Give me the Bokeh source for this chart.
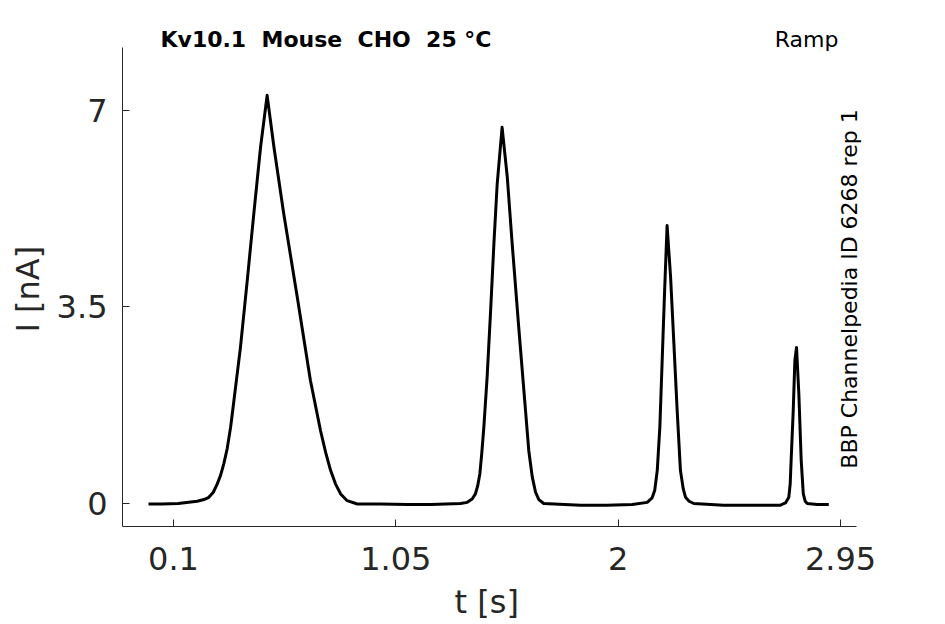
from bokeh.plotting import figure
from bokeh.models import Range1d, FixedTicker, Label, Title
from bokeh.embed import file_html
from bokeh.resources import INLINE
import math

# ---- data (time in s, current in nA) ----
t_peak1 = [-0.007, 0.05, 0.12, 0.201, 0.230, 0.251, 0.270, 0.287, 0.301, 0.315,
           0.329, 0.344, 0.358, 0.386, 0.415, 0.443, 0.472, 0.500, 0.529, 0.571,
           0.629, 0.685, 0.728, 0.750, 0.771, 0.792, 0.814, 0.842, 0.885, 0.984]
i_peak1 = [-0.01, -0.01, 0.00, 0.04, 0.07, 0.11, 0.20, 0.35, 0.50, 0.71,
           0.97, 1.36, 1.83, 2.78, 3.97, 5.16, 6.35, 7.27, 6.35, 5.16,
           3.67, 2.19, 1.30, 0.91, 0.59, 0.35, 0.17, 0.05, -0.01, -0.01]
t_peak2 = [1.10, 1.20, 1.326, 1.355, 1.376, 1.390, 1.400, 1.409, 1.417, 1.426,
           1.440, 1.455, 1.469, 1.483, 1.504, 1.526, 1.547, 1.575, 1.604, 1.618,
           1.633, 1.647, 1.661, 1.682, 1.839]
i_peak2 = [-0.02, -0.02, 0.00, 0.02, 0.08, 0.17, 0.32, 0.53, 0.89, 1.36,
           2.25, 3.44, 4.63, 5.69, 6.70, 5.82, 4.63, 3.14, 1.66, 0.94,
           0.47, 0.20, 0.07, 0.00, -0.03]
t_peak3 = [1.95, 2.060, 2.124, 2.145, 2.156, 2.167, 2.178, 2.188, 2.198, 2.209,
           2.224, 2.238, 2.252, 2.266, 2.278, 2.288, 2.303, 2.323, 2.45, 2.60]
i_peak3 = [-0.03, -0.02, 0.02, 0.10, 0.23, 0.59, 1.36, 2.55, 3.74, 4.95,
           4.03, 2.85, 1.66, 0.59, 0.26, 0.11, 0.04, 0.00, -0.03, -0.03]
t_peak4 = [2.694, 2.708, 2.715, 2.729, 2.735, 2.739, 2.748, 2.755, 2.762, 2.772,
           2.782, 2.791, 2.799, 2.808, 2.85, 2.900]
i_peak4 = [-0.03, 0.00, 0.01, 0.11, 0.35, 0.77, 1.66, 2.55, 2.78, 1.95,
           0.77, 0.17, 0.04, 0.00, -0.02, -0.02]

x_ticks = [0.1, 1.05, 2, 2.95]
x_tick_labels = ["0.1", "1.05", "2", "2.95"]
y_ticks = [0, 3.5, 7]
y_tick_labels = ["0", "3.5", "7"]

x_label = "t [s]"
y_label = "I [nA]"
title_text = "Kv10.1 \u00a0Mouse \u00a0CHO \u00a025 °C"
protocol_text = "Ramp"
source_text = "BBP Channelpedia ID 6268 rep 1"

t_all = t_peak1 + t_peak2 + t_peak3 + t_peak4
i_all = i_peak1 + i_peak2 + i_peak3 + i_peak4
assert len(t_all) == len(i_all)

FONT = "DejaVu Sans"
AX = "#262626"

# axes limits (the drawing frame extends a bit higher/right so texts are not clipped)
x_axis_bounds = (-0.118, 3.018)
y_axis_bounds = (-0.41, 8.122)

p = figure(frame_width=753, frame_height=506,
           min_border_left=122, min_border_right=70,
           min_border_top=20, min_border_bottom=98,
           x_range=Range1d(-0.118, 3.0995), y_range=Range1d(-0.41, 8.603),
           output_backend="svg", toolbar_location=None)
p.outline_line_color = None
p.grid.visible = False
p.background_fill_color = "white"
p.border_fill_color = "white"

p.line(t_all, i_all, line_color="black", line_width=3, line_join="round")

for ax, ticks, labels, bnds in ((p.xaxis[0], x_ticks, x_tick_labels, x_axis_bounds),
                                (p.yaxis[0], y_ticks, y_tick_labels, y_axis_bounds)):
    ax.bounds = bnds
    ax.ticker = FixedTicker(ticks=ticks)
    ax.major_label_overrides = {float(k): v for k, v in zip(ticks, labels)}
    ax.axis_line_color = AX
    ax.axis_line_width = 1
    ax.major_tick_line_color = AX
    ax.major_tick_in = 7
    ax.major_tick_out = 0
    ax.minor_tick_line_color = None
    ax.major_label_text_font = FONT
    ax.major_label_text_font_size = "32px"
    ax.major_label_text_color = AX

p.xaxis[0].major_label_standoff = 20
p.yaxis[0].major_label_standoff = 15

# axis titles centred on the drawn axis lines (not on the wider frame)
p.add_layout(Title(text=x_label, align="left", offset=332, standoff=21,
                   vertical_align="top",
                   text_font=FONT, text_font_size="32px", text_font_style="normal",
                   text_color=AX), "below")
p.add_layout(Title(text=y_label, align="left", offset=194, standoff=13,
                   text_font=FONT, text_font_size="32px", text_font_style="normal",
                   text_color=AX), "left")

p.add_layout(Label(x=203.5, y=487, x_units="screen", y_units="screen", text=title_text,
                   text_font=FONT, text_font_size="22px", text_font_style="bold",
                   text_align="center", text_baseline="middle", text_color="black"))
p.add_layout(Label(x=684, y=487, x_units="screen", y_units="screen", text=protocol_text,
                   text_font=FONT, text_font_size="22px",
                   text_align="center", text_baseline="middle", text_color="black"))
p.add_layout(Label(x=727, y=237.5, x_units="screen", y_units="screen", text=source_text,
                   angle=math.pi / 2,
                   text_font=FONT, text_font_size="22px",
                   text_align="center", text_baseline="middle", text_color="black"))

open("out.html", "w").write(file_html(p, INLINE))
